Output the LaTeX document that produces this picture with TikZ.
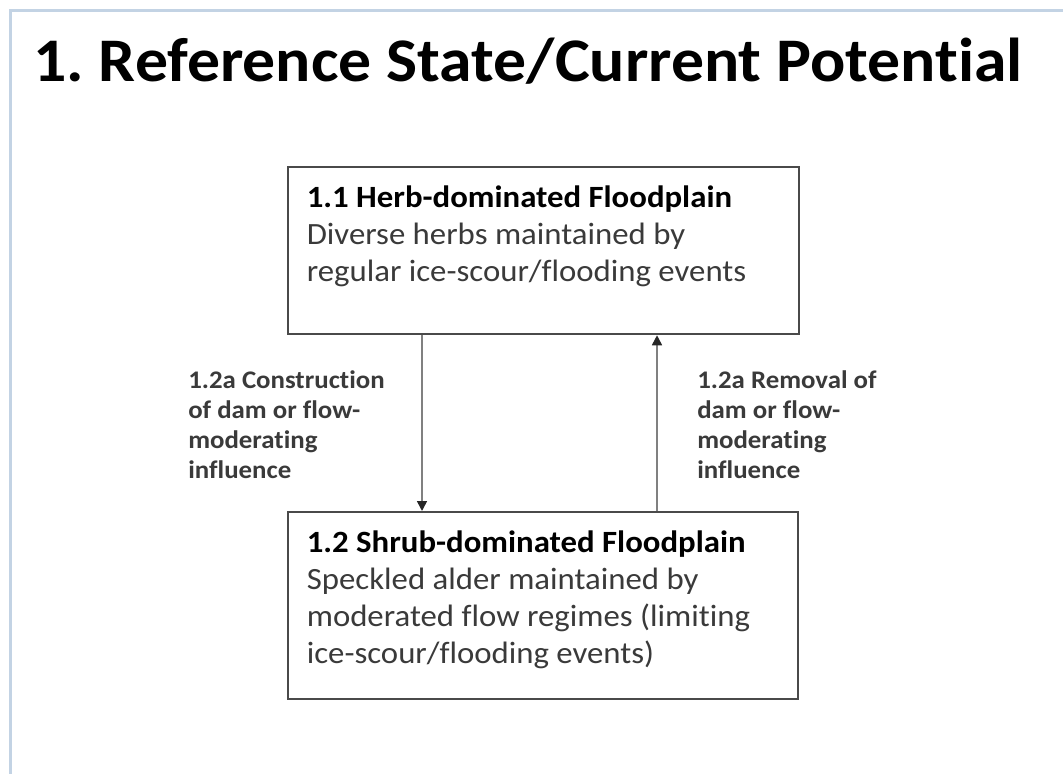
\documentclass[tikz,border=0pt]{standalone}
\usepackage{fontspec}
\setmainfont[Ligatures=NoCommon,FakeStretch=1.06]{Carlito}
\usepackage{tikz}
\usetikzlibrary{arrows.meta,positioning}
\definecolor{frame}{HTML}{C3D3E4}
\definecolor{edge}{HTML}{4A4A4A}
\definecolor{body}{HTML}{3A3A3A}
\definecolor{wire}{HTML}{808080}
\newcommand{\boxbody}[3]{\parbox[t][#1][t]{#2}{#3}}
\frenchspacing

\begin{document}
\begin{tikzpicture}[
  x=0.75pt,y=-0.75pt,
  heading/.style={anchor=base west,inner sep=0pt,font=\bfseries\fontsize{46.5}{56}\selectfont},
  statebox/.style={draw=edge,line width=1.7pt,anchor=north west,inner xsep=14pt,inner ysep=14pt,align=left,text=body,font=\fontsize{23.2}{27.75}\selectfont},
  lbl/.style={anchor=north west,inner sep=0pt,align=left,text=body,font=\bfseries\fontsize{19}{22.5}\selectfont},
  arr/.style={draw=wire,line width=1.2pt,-{Triangle[width=7.5pt,length=7.5pt,color=black!85]}}
]
\useasboundingbox (0,0) rectangle (1063,774);
\draw[frame,line width=2.25pt] (10,774) -- (10,11) -- (1063,11);
\node[heading] (title) at (33,81) {1. Reference State/Current Potential};
\node[statebox] (herb) at (287,166) {\boxbody{97.25pt}{355.25pt}{%
  \textbf{\color{black}1.1 Herb-dominated Floodplain}\\
  Diverse herbs maintained by\\
  regular ice-scour/flooding events}};
\node[statebox] (shrub) at (287,511) {\boxbody{112.25pt}{354.5pt}{%
  \textbf{\color{black}1.2 Shrub-dominated Floodplain}\\
  Speckled alder maintained by\\
  moderated flow regimes (limiting\\
  ice-scour/flooding events)}};
\node[lbl] (build) at (188,370) {1.2a Construction\\of dam or flow-\\moderating\\influence};
\node[lbl] (remove) at (697,370) {1.2a Removal of\\dam or flow-\\moderating\\influence};
\draw[arr] ([xshift=101.25pt]herb.south west) -- ([xshift=101.25pt]shrub.north west);
\draw[arr] ([xshift=277.5pt]shrub.north west) -- ([xshift=277.5pt]herb.south west);
\end{tikzpicture}
\end{document}
